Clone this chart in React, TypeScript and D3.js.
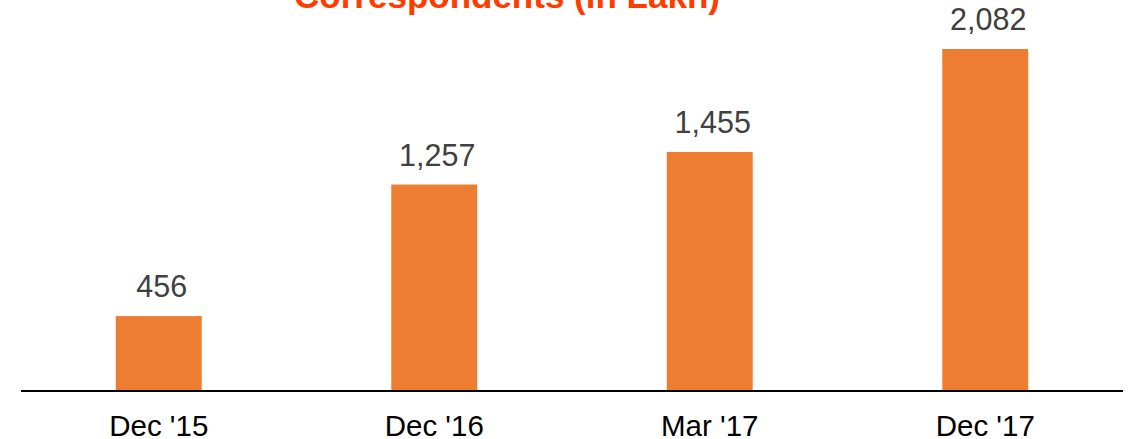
import React from "react";
import * as d3 from "d3";

const categories = ["Dec '15", "Dec '16", "Mar '17", "Dec '17"];
const values = [456, 1257, 1455, 2082];
const title = "Correspondents (in Lakh)";

const W = 1135;
const H = 439;
const baseY = 391;

export default function App() {
  const x = d3
    .scaleBand<string>()
    .domain(categories)
    .range([21, 1123])
    .paddingInner(0.688)
    .paddingOuter(0.344);
  const y = d3.scaleLinear().domain([0, 2082]).range([baseY, 49]);
  const fmt = d3.format(",");
  const font = "'Liberation Sans', Arial, sans-serif";
  return (
    <svg
      width={W}
      height={H}
      style={{ position: "absolute", left: 0, top: 0, background: "#fff" }}
    >
      <text
        x={507}
        y={8}
        textAnchor="middle"
        fontFamily={font}
        fontWeight="bold"
        fontSize={35}
        fill="#FF3C00"
      >
        {title}
      </text>
      {categories.map((c, i) => (
        <g key={c}>
          <rect
            x={x(c)}
            y={y(values[i])}
            width={x.bandwidth()}
            height={baseY - y(values[i])}
            fill="#ED7D31"
          />
          <text
            x={(x(c) as number) + x.bandwidth() / 2 + 3}
            y={y(values[i]) - 19}
            textAnchor="middle"
            fontFamily={font}
            fontSize={30.5}
            fill="#404040"
          >
            {fmt(values[i])}
          </text>
          <text
            x={(x(c) as number) + x.bandwidth() / 2}
            y={436}
            textAnchor="middle"
            fontFamily={font}
            fontSize={29.5}
            fill="#000"
          >
            {c}
          </text>
        </g>
      ))}
      <line x1={21} x2={1123} y1={baseY} y2={baseY} stroke="#000" strokeWidth={2} />
    </svg>
  );
}
